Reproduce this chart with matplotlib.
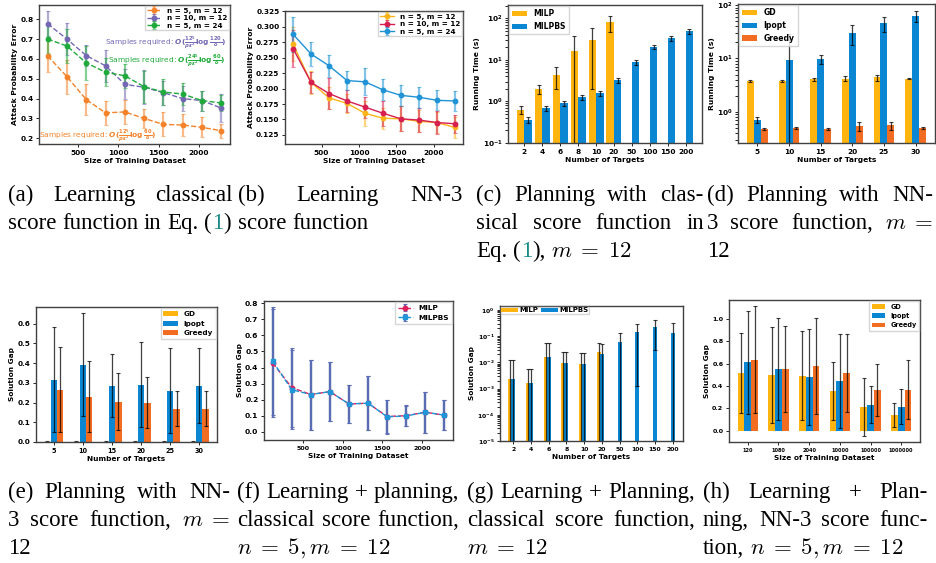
import matplotlib
matplotlib.use("Agg")
import numpy as np
import matplotlib.pyplot as plt
from matplotlib.colors import to_rgba

plt.rcParams["font.family"] = "DejaVu Sans"
plt.rcParams["font.weight"] = "bold"
plt.rcParams["axes.labelweight"] = "bold"

# ---- data -------------------------------------------------------------
sizes = [120, 360, 600, 840, 1080, 1320, 1560, 1800, 2040, 2280]

# (a) learning classical score
a_n5_m12 = [0.615, 0.51, 0.395, 0.328, 0.333, 0.30, 0.27, 0.267, 0.255, 0.238]
a_n5_m12_err = [0.08, 0.085, 0.08, 0.06, 0.06, 0.05, 0.06, 0.055, 0.05, 0.035]
a_n10_m12 = [0.777, 0.70, 0.617, 0.565, 0.472, 0.457, 0.43, 0.40, 0.39, 0.352]
a_n10_m12_err = [0.063, 0.08, 0.055, 0.08, 0.075, 0.085, 0.06, 0.065, 0.05, 0.07]
a_n5_m24 = [0.70, 0.665, 0.58, 0.533, 0.515, 0.46, 0.433, 0.423, 0.39, 0.378]
a_n5_m24_err = [0.07, 0.085, 0.085, 0.07, 0.06, 0.08, 0.065, 0.055, 0.05, 0.04]

# (b) learning NN-3 score
b_n5_m12 = [0.272, 0.21, 0.185, 0.176, 0.16, 0.152, 0.151, 0.147, 0.145, 0.137]
b_n5_m12_err = [0.028, 0.018, 0.018, 0.015, 0.02, 0.017, 0.02, 0.018, 0.017, 0.017]
b_n10_m12 = [0.265, 0.21, 0.192, 0.18, 0.17, 0.16, 0.151, 0.149, 0.145, 0.143]
b_n10_m12_err = [0.03, 0.017, 0.025, 0.018, 0.017, 0.02, 0.02, 0.019, 0.018, 0.015]
b_n5_m24 = [0.288, 0.256, 0.237, 0.213, 0.211, 0.198, 0.189, 0.186, 0.181, 0.180]
b_n5_m24_err = [0.028, 0.02, 0.018, 0.015, 0.022, 0.017, 0.017, 0.017, 0.016, 0.016]

# (c) planning, classical score: running time
targets_c = ["2", "4", "6", "8", "10", "20", "50", "100", "150", "200"]
c_milp = [0.63, 1.98, 4.3, 16.4, 30.0, 80.0]
c_milp_err = [0.14, 0.5, 2.3, 22.0, 28.0, 33.0]
c_milpbs = [0.356, 0.69, 0.91, 1.29, 1.58, 3.25, 8.8, 20.1, 33.0, 48.8]
c_milpbs_err = [0.06, 0.1, 0.12, 0.18, 0.2, 0.45, 1.2, 2.2, 4.5, 7.0]

# (d) planning, NN-3 score: running time
targets_d = ["5", "10", "15", "20", "25", "30"]
d_gd = [3.78, 3.8, 4.06, 4.17, 4.4, 4.17]
d_gd_err = [0.1, 0.2, 0.2, 0.45, 0.6, 0.1]
d_ipopt = [0.70, 9.2, 9.9, 30.5, 46.0, 63.0]
d_ipopt_err = [0.09, 20.0, 1.9, 12.5, 15.0, 15.0]
d_greedy = [0.475, 0.50, 0.475, 0.54, 0.556, 0.50]
d_greedy_err = [0.02, 0.03, 0.02, 0.1, 0.1, 0.02]

# (e) planning, NN-3 score: solution gap
e_gd = [0.002, 0.002, 0.002, 0.002, 0.002, 0.002]
e_gd_err = [0.002, 0.002, 0.002, 0.002, 0.002, 0.002]
e_ipopt = [0.316, 0.392, 0.286, 0.291, 0.26, 0.286]
e_ipopt_err = [0.267, 0.26, 0.16, 0.216, 0.215, 0.19]
e_greedy = [0.266, 0.23, 0.205, 0.20, 0.169, 0.169]
e_greedy_err = [0.217, 0.18, 0.143, 0.128, 0.09, 0.09]

# (f) learning + planning, classical score
f_milp = [0.43, 0.275, 0.232, 0.25, 0.173, 0.178, 0.095, 0.10, 0.122, 0.103]
f_milpbs = [0.44, 0.262, 0.232, 0.25, 0.173, 0.178, 0.093, 0.098, 0.122, 0.103]
f_err = [0.335, 0.245, 0.218, 0.185, 0.12, 0.167, 0.105, 0.065, 0.128, 0.092]

# (g) learning + planning, classical score: solution gap
g_milp = [0.0023, 0.0016, 0.0163, 0.0093, 0.0088, 0.025]
g_milp_err = [0.0102, 0.0039, 0.0377, 0.0152, 0.0132, 0.029]
g_milpbs = [0.0023, 0.0016, 0.0163, 0.0093, 0.0088, 0.021, 0.060, 0.145, 0.225, 0.133]
g_milpbs_err = [0.0102, 0.0039, 0.0377, 0.0152, 0.0132, 0.027, 0.066, 0.1437, 0.195, 0.18]

# (h) learning + planning, NN-3 score
h_sizes = ["120", "1080", "2040", "10000", "100000", "1000000"]
h_gd = [0.513, 0.498, 0.49, 0.355, 0.212, 0.14]
h_gd_err = [0.36, 0.43, 0.40, 0.26, 0.257, 0.105]
h_ipopt = [0.612, 0.552, 0.48, 0.445, 0.23, 0.215]
h_ipopt_err = [0.46, 0.46, 0.43, 0.42, 0.165, 0.155]
h_greedy = [0.633, 0.552, 0.579, 0.516, 0.364, 0.364]
h_greedy_err = [0.48, 0.39, 0.43, 0.35, 0.235, 0.265]

YEL, BLU, ORG = "#ffb40f", "#0a86d2", "#f26d21"

W, H = 936, 563
fig = plt.figure(figsize=(W / 100, H / 100), dpi=100)


def box(l, t, r, b):
    return fig.add_axes([l / W, 1 - b / H, (r - l) / W, (b - t) / H])


def style(ax, fs=5.3, xfs=None):
    for s in ax.spines.values():
        s.set_linewidth(1.0)
        s.set_color("#404040")
    ax.tick_params(labelsize=fs, length=2.5, width=0.6, pad=1.5)
    if xfs:
        ax.tick_params(axis="x", labelsize=xfs)


def err_line(ax, x, y, e, color, ls, marker, label, ecolor=None):
    ax.errorbar(x, y, yerr=e, color=color, ls=ls, marker=marker, ms=3.2, lw=1.0,
                ecolor=ecolor or to_rgba(color, 0.55), elinewidth=1.6,
                capsize=1.5, capthick=0.8, label=label)


ekw = dict(ecolor="black", elinewidth=0.9, capsize=1.2, capthick=0.8, alpha=0.75)


def legend(ax, **kw):
    opts = dict(prop={"weight": "bold", "size": 5.2}, borderaxespad=0.15,
                handlelength=2.0, fancybox=False, edgecolor="#cccccc")
    opts.update(kw)
    return ax.legend(**opts)


# (a)
ax = box(39, 5, 230, 144)
err_line(ax, sizes, a_n5_m12, a_n5_m12_err, "#f4822a", "--", "o", "n = 5, m = 12")
err_line(ax, sizes, a_n10_m12, a_n10_m12_err, "#7468b4", "--", "o", "n = 10, m = 12")
err_line(ax, sizes, a_n5_m24, a_n5_m24_err, "#1fab3c", "--", "o", "n = 5, m = 24")
ax.text(0.346, 0.722, r"Samples required: $O(\frac{12^5}{\rho\epsilon^2}\log\frac{120}{\delta})$",
        transform=ax.transAxes, color="#7468b4", fontsize=5.3, weight="normal", va="center")
ax.text(0.361, 0.597, r"Samples required: $O(\frac{24^5}{\rho\epsilon^2}\log\frac{60}{\delta})$",
        transform=ax.transAxes, color="#1fab3c", fontsize=5.3, weight="normal", va="center")
ax.text(0.0, 0.058, r"Samples required: $O(\frac{12^5}{\rho\epsilon^2}\log\frac{60}{\delta})$",
        transform=ax.transAxes, color="#f4822a", fontsize=5.3, weight="normal", va="center")
ax.set_xlabel("Size of Training Dataset", fontsize=5.4, labelpad=1.5)
ax.set_ylabel("Attack Probability Error", fontsize=5.4, labelpad=1.5)
style(ax)
legend(ax, loc="upper right", labelspacing=0.2, borderpad=0.2)

# (b)
ax = box(285, 11, 463, 144)
err_line(ax, sizes, b_n5_m12, b_n5_m12_err, "#fbb41a", "-", "o", "n = 5, m = 12")
err_line(ax, sizes, b_n10_m12, b_n10_m12_err, "#d61f50", "-", "o", "n = 10, m = 12")
err_line(ax, sizes, b_n5_m24, b_n5_m24_err, "#2093d6", "-", "o", "n = 5, m = 24")
ax.set_xlabel("Size of Training Dataset", fontsize=5.4, labelpad=1.5)
ax.set_ylabel("Attack Probability Error", fontsize=5.4, labelpad=1.5)
style(ax)
legend(ax, loc="upper right", labelspacing=0.2, borderpad=0.2)

# (c)
ax = box(508, 5, 702, 143)
xc = np.arange(len(targets_c))
ax.bar(xc[:len(c_milp)] - 0.21, c_milp, 0.42, yerr=c_milp_err, color=YEL,
       error_kw=ekw, label="MILP")
ax.bar(xc + 0.21, c_milpbs, 0.42, yerr=c_milpbs_err, color=BLU,
       error_kw=ekw, label="MILPBS")
ax.set_yscale("log")
ax.set_ylim(0.1, 210)
ax.set_xticks(xc)
ax.set_xticklabels(targets_c)
ax.set_xlabel("Number of Targets", fontsize=5.4, labelpad=1.5)
ax.set_ylabel("Running Time (s)", fontsize=5.4, labelpad=1.5)
style(ax)
legend(ax, loc="upper left", prop={"weight": "bold", "size": 5.5})

# (d)
ax = box(738, 4, 935, 143)
xd = np.arange(len(targets_d))
ax.bar(xd - 0.22, d_gd, 0.22, yerr=d_gd_err, color=YEL, error_kw=ekw, label="GD")
ax.bar(xd, d_ipopt, 0.22, yerr=d_ipopt_err, color=BLU, error_kw=ekw, label="Ipopt")
ax.bar(xd + 0.22, d_greedy, 0.22, yerr=d_greedy_err, color=ORG, error_kw=ekw, label="Greedy")
ax.set_yscale("log")
ax.set_ylim(0.26, 105)
ax.set_xticks(xd)
ax.set_xticklabels(targets_d)
ax.set_xlabel("Number of Targets", fontsize=5.4, labelpad=1.5)
ax.set_ylabel("Running Time (s)", fontsize=5.4, labelpad=1.5)
style(ax)
legend(ax, loc="upper left", prop={"weight": "bold", "size": 5.5})

# (e)
ax = box(36, 307, 217, 442)
ax.bar(xd - 0.22, e_gd, 0.22, yerr=e_gd_err, color=YEL, error_kw=ekw, label="GD")
ax.bar(xd, e_ipopt, 0.22, yerr=e_ipopt_err, color=BLU, error_kw=ekw, label="Ipopt")
ax.bar(xd + 0.22, e_greedy, 0.22, yerr=e_greedy_err, color=ORG, error_kw=ekw, label="Greedy")
ax.set_ylim(bottom=0)
ax.set_xticks(xd)
ax.set_xticklabels(targets_d)
ax.set_xlabel("Number of Targets", fontsize=5.3, labelpad=1.5)
ax.set_ylabel("Solution Gap", fontsize=5.3, labelpad=1.5)
style(ax, fs=5.2, xfs=4.7)
legend(ax, loc="upper right", prop={"weight": "bold", "size": 5.2})

# (f)
ax = box(264, 301, 453, 440)
err_line(ax, sizes, f_milp, f_err, "#de1f5e", "--", "o", "MILP", ecolor=to_rgba("#5a6db3", 0.95))
err_line(ax, sizes, f_milpbs, f_err, "#1e96d8", "--", "s", "MILPBS", ecolor=to_rgba("#5a6db3", 0.95))
ax.set_xlabel("Size of Training Dataset", fontsize=5.3, labelpad=1.5)
ax.set_ylabel("Solution Gap", fontsize=5.3, labelpad=1.5)
style(ax, fs=5.4, xfs=4.6)
legend(ax, loc="upper right", prop={"weight": "bold", "size": 5.3})

# (g)
ax = box(500, 306, 683, 441)
ax.bar(xc[:len(g_milp)] - 0.17, g_milp, 0.23, yerr=g_milp_err, color=YEL,
       error_kw=ekw, label="MILP")
ax.bar(xc, g_milpbs, 0.23, yerr=g_milpbs_err, color=BLU, error_kw=ekw, label="MILPBS")
ax.set_yscale("log")
ax.set_ylim(1e-5, 1.4)
ax.set_xticks(xc)
ax.set_xticklabels(targets_c)
ax.set_xlabel("Number of Targets", fontsize=5.3, labelpad=1.5)
ax.set_ylabel("Solution Gap", fontsize=5.3, labelpad=1.5)
style(ax, fs=4.4, xfs=4.4)
legend(ax, loc="upper left", ncol=2, prop={"weight": "bold", "size": 5.0},
       columnspacing=0.4, handletextpad=0.2, borderpad=0.1, borderaxespad=0.1,
       handlelength=2.4)

# (h)
ax = box(729, 300, 920, 442)
ax.bar(xd - 0.22, h_gd, 0.22, yerr=h_gd_err, color=YEL, error_kw=ekw, label="GD")
ax.bar(xd, h_ipopt, 0.22, yerr=h_ipopt_err, color=BLU, error_kw=ekw, label="Ipopt")
ax.bar(xd + 0.22, h_greedy, 0.22, yerr=h_greedy_err, color=ORG, error_kw=ekw, label="Greedy")
ax.set_xticks(xd)
ax.set_xticklabels(h_sizes)
ax.set_xlabel("Size of Training Dataset", fontsize=5.3, labelpad=1.5)
ax.set_ylabel("Solution Gap", fontsize=5.3, labelpad=1.5)
style(ax, fs=4.6, xfs=3.6)
legend(ax, loc="upper right", prop={"weight": "bold", "size": 4.7})

# ---- captions -----------------------------------------------------------
renderer = fig.canvas.get_renderer()
CAP = dict(family="Liberation Serif", size=16.5, weight="normal", math_fontfamily="cm")
TEAL = "#1a8a8a"


def segments(tok):
    if tok.startswith("(1)"):
        return [("(", "black"), ("1", TEAL), (tok[2:], "black")]
    return [(tok, "black")]


def put(x, y, s, color):
    t = fig.text(x / W, 1 - y / H, s, ha="left", va="baseline", color=color, **CAP)
    return t.get_window_extent(renderer=renderer).width


def measure(s):
    t = fig.text(0, 0, s, **CAP)
    w = t.get_window_extent(renderer=renderer).width
    t.remove()
    return w


def caption(x0, width, y0, lines, step=28):
    space = measure("a a") - 2 * measure("a")
    for k, line in enumerate(lines):
        toks = [segments(t) for t in line]
        widths = [sum(measure(s) for s, _ in tk) for tk in toks]
        if k < len(lines) - 1 and len(toks) > 1:
            gap = (width - sum(widths)) / (len(toks) - 1)
        else:
            gap = space
        x = x0
        y = y0 + k * step
        for tk, w in zip(toks, widths):
            xx = x
            for s, c in tk:
                xx += put(xx, y, s, c)
            x += w + gap


M12 = r"$m\;=\;12$"
N5M12 = r"$n\;=\;5,m\;=\;12$"

caption(8, 225, 201, [["(a)", "Learning", "classical"],
                      ["score", "function", "in", "Eq.", "(1)"]])
caption(238, 225, 201, [["(b)", "Learning", "NN-3"],
                        ["score", "function"]])
caption(476, 228, 201, [["(c)", "Planning", "with", "clas-"],
                        ["sical", "score", "function", "in"],
                        ["Eq.", "(1),", M12]])
caption(707, 226, 201, [["(d)", "Planning", "with", "NN-"],
                        ["3", "score", "function,", r"$m\;=$"],
                        ["12"]])
caption(8, 222, 498, [["(e)", "Planning", "with", "NN-"],
                      ["3", "score", "function,", r"$m\;=$"],
                      ["12"]])
caption(237, 222, 498, [["(f)", "Learning", "+", "planning,"],
                        ["classical", "score", "function,"],
                        [N5M12]])
caption(467, 228, 498, [["(g)", "Learning", "+", "Planning,"],
                        ["classical", "score", "function,"],
                        [M12]])
caption(703, 225, 498, [["(h)", "Learning", "+", "Plan-"],
                        ["ning,", "NN-3", "score", "func-"],
                        ["tion,", N5M12]])

fig.savefig("out.png", dpi=100)
